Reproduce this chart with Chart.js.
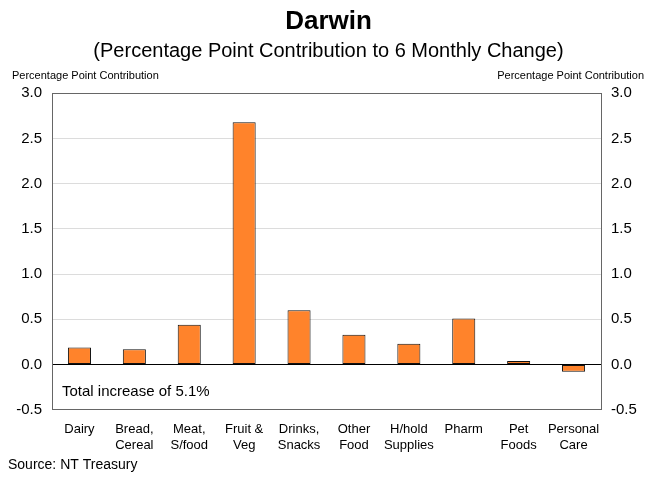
<!DOCTYPE html>
<html>
<head>
<meta charset="utf-8">
<script src="https://cdn.jsdelivr.net/npm/chart.js@4"></script>
<style>
  html, body { margin: 0; padding: 0; background: #fff; }
  #wrap { width: 657px; height: 477px; }
</style>
</head>
<body>
<div id="wrap"><canvas id="darwinChart"></canvas></div>
<script>
var categories = [
	['Dairy'],
	['Bread,', 'Cereal'],
	['Meat,', 'S/food'],
	['Fruit &', 'Veg'],
	['Drinks,', 'Snacks'],
	['Other', 'Food'],
	['H/hold', 'Supplies'],
	['Pharm'],
	['Pet', 'Foods'],
	['Personal', 'Care'],
];
var contribution = [0.19, 0.17, 0.44, 2.68, 0.6, 0.33, 0.23, 0.51, 0.04, -0.08];
var yTicks = [-0.5, 0, 0.5, 1, 1.5, 2, 2.5, 3];

var FONT = 'Liberation Sans, Arial, Helvetica, sans-serif';

var extraText = {
	id: 'extraText',
	afterDraw: function (chart) {
		var ctx = chart.ctx;
		var area = chart.chartArea;
		ctx.save();
		ctx.fillStyle = '#000';
		ctx.font = '11px ' + FONT;
		ctx.textBaseline = 'middle';
		ctx.textAlign = 'left';
		ctx.fillText('Percentage Point Contribution', 12, 76);
		ctx.textAlign = 'right';
		ctx.fillText('Percentage Point Contribution', 644, 76);
		ctx.font = '15px ' + FONT;
		ctx.textAlign = 'left';
		ctx.fillText('Total increase of 5.1%', area.left + 10, 392);
		ctx.font = '14px ' + FONT;
		ctx.fillText('Source: NT Treasury', 8, 465);
		ctx.restore();
	},
};

function tickOpts() {
	return {
		display: true,
		color: '#000',
		font: { size: 15, family: FONT },
		padding: 10,
		align: 'center',
		crossAlign: 'near',
		callback: function (v) { return v.toFixed(1); },
	};
}

var darwinChart = new Chart(document.getElementById('darwinChart'), {
	type: 'bar',
	data: {
		labels: categories,
		datasets: [
			{
				label: 'Contribution',
				data: contribution,
				backgroundColor: '#FF832B',
				borderColor: '#111',
				borderWidth: 1,
				borderSkipped: false,
				barPercentage: 0.84,
				categoryPercentage: 0.5,
			},
		],
	},
	options: {
		responsive: true,
		maintainAspectRatio: false,
		animation: false,
		layout: { padding: { top: 0, bottom: 12, left: 0, right: 0 } },
		plugins: {
			legend: { display: false },
			tooltip: { enabled: false },
			title: {
				display: true,
				text: 'Darwin',
				color: '#000',
				font: { family: FONT, size: 26, weight: 'bold' },
				padding: { top: 6, bottom: 2 },
			},
			subtitle: {
				display: true,
				text: '(Percentage Point Contribution to 6 Monthly Change)',
				color: '#000',
				font: { family: FONT, size: 20 },
				padding: { top: 0, bottom: 30 },
			},
		},
		scales: {
			x: {
				grid: { display: false, drawTicks: false },
				border: { color: '#666', width: 1 },
				ticks: {
					color: '#000',
					font: { size: 13, family: FONT },
					padding: 12,
					maxRotation: 0,
					autoSkip: false,
				},
			},
			y: {
				position: 'left',
				min: -0.5,
				max: 3,
				afterBuildTicks: function (s) { s.ticks = yTicks.map(function (v) { return { value: v }; }); },
				afterFit: function (s) { s.width = 52; },
				grid: {
					drawTicks: false,
					color: function (c) {
						if (c.tick && c.tick.value === 0) return '#000';
						if (c.tick && c.tick.value === 3) return '#666';
						return '#dcdcdc';
					},
				},
				border: { color: '#666', width: 1 },
				ticks: tickOpts(),
			},
			y2: {
				position: 'right',
				min: -0.5,
				max: 3,
				afterBuildTicks: function (s) { s.ticks = yTicks.map(function (v) { return { value: v }; }); },
				afterFit: function (s) { s.width = 56; },
				grid: { display: false, drawTicks: false },
				border: { color: '#666', width: 1 },
				ticks: tickOpts(),
			},
		},
	},
	plugins: [extraText],
});
</script>
</body>
</html>
